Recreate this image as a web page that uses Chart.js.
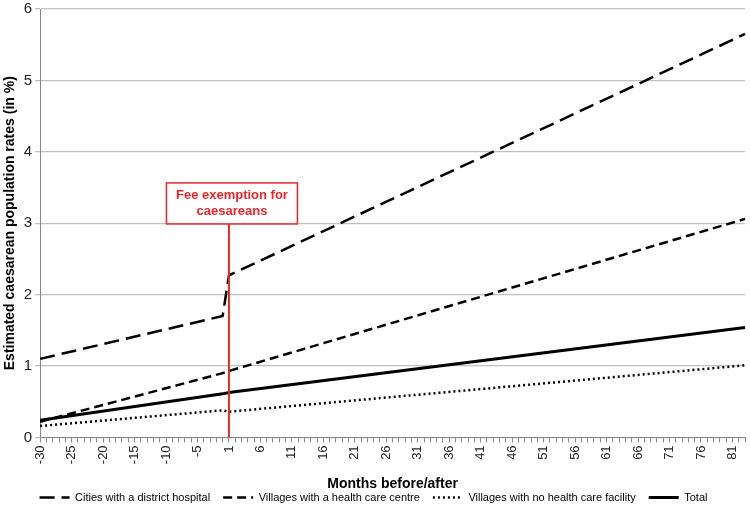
<!DOCTYPE html>
<html>
<head>
<meta charset="utf-8">
<script src="https://cdn.jsdelivr.net/npm/chart.js@4.4.1/dist/chart.umd.min.js"></script>
<style>
    body { margin: 0; background: #fff; }
    canvas { display: block; }
</style>
</head>
<body>
<canvas id="myChart" width="750" height="507"></canvas>
<script>
// months -30..-1 then 1..83 (there is no month 0)
const months = [];
for (let m = -30; m <= 83; m++) {
    if (m !== 0) months.push(String(m));
}

const keyMonths = ['-30', '-1', '1', '83'];
const cities = [1.10, 1.70, 2.27, 5.65];
const villagesCentre = [0.22, 0.90, 0.93, 3.06];
const villagesNone = [0.16, 0.38, 0.36, 1.01];
const total = [0.24, 0.61, 0.63, 1.54];

const yTicks = [0, 1, 2, 3, 4, 5, 6];
const interventionMonth = '1';
const noteLines = ['Fee exemption for', 'caesareans'];

function points(values) {
    return keyMonths.map(function (m, i) {
        return { x: m, y: values[i] };
    });
}

const feeNote = {
    id: 'feeNote',
    afterDatasetsDraw: function (chart) {
        const ctx = chart.ctx;
        const x = chart.scales.x.getPixelForValue(months.indexOf(interventionMonth));
        const yBottom = chart.scales.y.getPixelForValue(0);
        const boxBottom = chart.scales.y.getPixelForValue(2.99);
        const boxW = 131, boxH = 41;
        ctx.save();
        ctx.strokeStyle = '#e8262d';
        ctx.lineWidth = 2;
        ctx.beginPath();
        ctx.moveTo(x, yBottom);
        ctx.lineTo(x, boxBottom);
        ctx.stroke();
        const bx = x - boxW / 2 + 3;
        ctx.fillStyle = '#fff';
        ctx.fillRect(bx, boxBottom - boxH, boxW, boxH);
        ctx.lineWidth = 1.5;
        ctx.strokeRect(bx, boxBottom - boxH, boxW, boxH);
        ctx.fillStyle = '#e8262d';
        ctx.font = 'bold 13px "Liberation Sans", Arial, sans-serif';
        ctx.textAlign = 'center';
        ctx.textBaseline = 'middle';
        ctx.fillText(noteLines[0], bx + boxW / 2, boxBottom - boxH + 13);
        ctx.fillText(noteLines[1], bx + boxW / 2, boxBottom - boxH + 29);
        ctx.restore();
    }
};

Chart.defaults.font.family = '"Liberation Sans", Arial, sans-serif';
Chart.defaults.color = '#222';

new Chart(document.getElementById('myChart'), {
    type: 'line',
    data: {
        labels: months,
        datasets: [{
            label: 'Cities with a district hospital',
            data: points(cities),
            borderColor: '#000',
            backgroundColor: '#000',
            borderWidth: 2.5,
            borderDash: [15, 7]
        }, {
            label: 'Villages with a health care centre',
            data: points(villagesCentre),
            borderColor: '#000',
            backgroundColor: '#000',
            borderWidth: 2.5,
            borderDash: [9, 5]
        }, {
            label: 'Villages with no health care facility',
            data: points(villagesNone),
            borderColor: '#000',
            backgroundColor: '#000',
            borderWidth: 2.5,
            borderDash: [2, 3]
        }, {
            label: 'Total',
            data: points(total),
            borderColor: '#000',
            backgroundColor: '#000',
            borderWidth: 3
        }]
    },
    options: {
        responsive: false,
        animation: false,
        layout: { padding: { top: 2, right: 5, left: 2, bottom: -6 } },
        elements: {
            point: { radius: 0, hoverRadius: 0 },
            line: { tension: 0, borderCapStyle: 'butt' }
        },
        plugins: {
            tooltip: { enabled: false },
            legend: {
                position: 'bottom',
                labels: {
                    usePointStyle: true,
                    pointStyle: 'line',
                    pointStyleWidth: 30,
                    boxHeight: 11,
                    padding: 13,
                    color: '#000',
                    font: { size: 11 },
                    generateLabels: function (chart) {
                        const items = Chart.defaults.plugins.legend.labels.generateLabels(chart);
                        items.forEach(function (item) {
                            const ds = chart.data.datasets[item.datasetIndex];
                            item.lineDash = ds.borderDash || [];
                            item.lineWidth = ds.borderWidth;
                            item.strokeStyle = '#000';
                            item.pointStyle = 'line';
                        });
                        return items;
                    }
                }
            }
        },
        scales: {
            x: {
                offset: false,
                afterFit: function (scale) {
                    scale.paddingRight = 0;
                },
                grid: { drawOnChartArea: false, drawTicks: true, tickLength: 5, color: '#888' },
                border: { color: '#888' },
                ticks: {
                    autoSkip: false,
                    minRotation: 90,
                    maxRotation: 90,
                    padding: 3,
                    font: { size: 13 },
                    callback: function (val, i) {
                        return i % 5 === 0 ? this.getLabelForValue(val) : '';
                    }
                },
                title: {
                    display: true,
                    text: 'Months before/after',
                    color: '#000',
                    font: { size: 14, weight: 'bold' },
                    padding: { top: 9, bottom: -14 }
                }
            },
            y: {
                min: yTicks[0],
                max: yTicks[yTicks.length - 1],
                afterFit: function (scale) {
                    scale.paddingTop = 9;
                },
                grid: { color: '#c0c0c0', tickLength: 5, lineWidth: 1.3 },
                border: { color: '#888' },
                ticks: { stepSize: 1, font: { size: 15 }, padding: 3 },
                title: {
                    display: true,
                    text: 'Estimated caesarean population rates (in %)',
                    color: '#000',
                    font: { size: 14, weight: 'bold' },
                    padding: { top: 0, bottom: 2 }
                }
            }
        }
    },
    plugins: [feeNote]
});
</script>
</body>
</html>
